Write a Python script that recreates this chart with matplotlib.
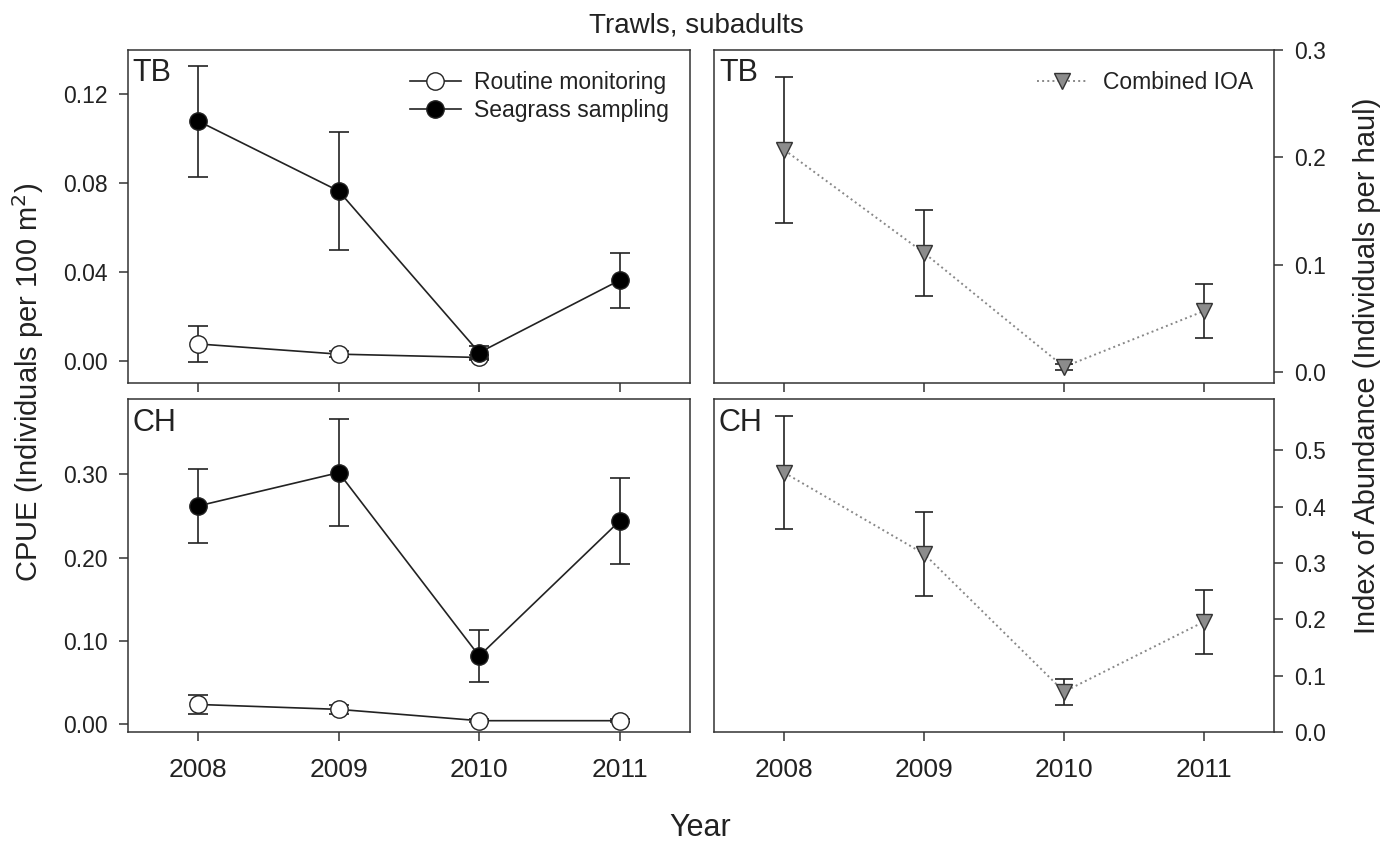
import numpy as np
import matplotlib
matplotlib.use('Agg')
import matplotlib.pyplot as plt
from matplotlib.ticker import FormatStrFormatter

plt.rcParams['font.family'] = ['Liberation Sans', 'DejaVu Sans']

years = [2008, 2009, 2010, 2011]

# Tampa Bay (TB), CPUE per 100 m^2
tb_routine = [0.0076, 0.0030, 0.0015, np.nan]
tb_routine_se = [0.0080, 0.0015, 0.0010, np.nan]
tb_seagrass = [0.108, 0.0765, 0.0037, 0.0363]
tb_seagrass_se = [0.025, 0.0265, 0.003, 0.0123]
# TB combined index of abundance (per haul)
tb_ioa = [0.207, 0.111, 0.005, 0.057]
tb_ioa_se = [0.068, 0.040, 0.003, 0.025]

# Charlotte Harbor (CH)
ch_routine = [0.0235, 0.0176, 0.004, 0.004]
ch_routine_se = [0.011, 0.005, 0.002, 0.002]
ch_seagrass = [0.262, 0.302, 0.0817, 0.244]
ch_seagrass_se = [0.044, 0.064, 0.031, 0.052]
ch_ioa = [0.460, 0.316, 0.072, 0.196]
ch_ioa_se = [0.100, 0.075, 0.023, 0.057]

ink = '#222222'

fig = plt.figure(figsize=(13.93, 8.44), dpi=100)
ax_tl = fig.add_axes([0.0919, 0.5462, 0.4034, 0.3945])
ax_tr = fig.add_axes([0.5129, 0.5462, 0.4016, 0.3945])
ax_bl = fig.add_axes([0.0919, 0.1323, 0.4034, 0.3945])
ax_br = fig.add_axes([0.5129, 0.1323, 0.4016, 0.3945])


def cpue_panel(ax, routine, routine_se, seagrass, seagrass_se):
    ax.errorbar(years, routine, yerr=routine_se, fmt='none', ecolor=ink,
                elinewidth=1.2, capsize=7, capthick=1.2, zorder=2)
    ax.plot(years, routine, '-o', color=ink, lw=1.2, ms=12.5, mfc='white',
            mec=ink, mew=1.0, label='Routine monitoring', zorder=3)
    ax.errorbar(years, seagrass, yerr=seagrass_se, fmt='none', ecolor=ink,
                elinewidth=1.2, capsize=7, capthick=1.2, zorder=4)
    ax.plot(years, seagrass, '-o', color=ink, lw=1.2, ms=12.5, mfc='black',
            mec=ink, mew=1.0, label='Seagrass sampling', zorder=5)


def ioa_panel(ax, ioa, ioa_se):
    ax.plot(years, ioa, ':', color='#888888', lw=1.4, zorder=2)
    ax.errorbar(years, ioa, yerr=ioa_se, fmt='none', ecolor=ink,
                elinewidth=1.2, capsize=6.5, capthick=1.2, zorder=3)
    ax.plot(years, ioa, linestyle='none', marker='v', ms=11, mfc='#8c8c8c',
            mec='#333333', mew=1.0, zorder=4)
    # legend handle: dotted line with triangle
    ax.plot([], [], ':', color='#888888', lw=1.4, marker='v', ms=11,
            mfc='#8c8c8c', mec='#333333', label='Combined IOA')


cpue_panel(ax_tl, tb_routine, tb_routine_se, tb_seagrass, tb_seagrass_se)
cpue_panel(ax_bl, ch_routine, ch_routine_se, ch_seagrass, ch_seagrass_se)
ioa_panel(ax_tr, tb_ioa, tb_ioa_se)
ioa_panel(ax_br, ch_ioa, ch_ioa_se)

ax_tl.set_ylim(-0.01, 0.14)
ax_tl.set_yticks([0.0, 0.04, 0.08, 0.12])
ax_tl.yaxis.set_major_formatter(FormatStrFormatter('%.2f'))
ax_bl.set_ylim(-0.01, 0.39)
ax_bl.set_yticks([0.0, 0.1, 0.2, 0.3])
ax_bl.yaxis.set_major_formatter(FormatStrFormatter('%.2f'))
ax_tr.set_ylim(-0.01, 0.30)
ax_tr.set_yticks([0.0, 0.1, 0.2, 0.3])
ax_br.set_ylim(0.0, 0.59)
ax_br.set_yticks([0.0, 0.1, 0.2, 0.3, 0.4, 0.5])
for ax in (ax_tr, ax_br):
    ax.yaxis.set_major_formatter(FormatStrFormatter('%.1f'))
    ax.yaxis.tick_right()

for ax in (ax_tl, ax_tr, ax_bl, ax_br):
    ax.set_xlim(2007.5, 2011.5)
    ax.set_xticks(years)
    ax.set_xticklabels([str(y) for y in years])
    for s in ax.spines.values():
        s.set_color('#333333')
        s.set_linewidth(1.1)
    ax.tick_params(axis='both', direction='out', length=6.5, width=1.1,
                   colors='#333333', labelcolor=ink)
    ax.tick_params(axis='y', labelsize=16.5, pad=8)
    ax.tick_params(axis='x', labelsize=19, pad=12)

for ax in (ax_tl, ax_tr):
    ax.tick_params(axis='x', labelbottom=False)

for ax, name in ((ax_tl, 'TB'), (ax_tr, 'TB'), (ax_bl, 'CH'), (ax_br, 'CH')):
    ax.text(0.008, 0.975, name, transform=ax.transAxes, fontsize=22,
            va='top', ha='left', color=ink)

leg = ax_tl.legend(loc='upper right', frameon=False, fontsize=16.5,
                   handlelength=2.2, handletextpad=0.6, labelspacing=0.25,
                   numpoints=1)
for t in leg.get_texts():
    t.set_color(ink)
leg2 = ax_tr.legend(loc='upper right', frameon=False, fontsize=16.5,
                    handlelength=2.2, handletextpad=0.7, numpoints=1)
for t in leg2.get_texts():
    t.set_color(ink)

fig.text(0.5, 0.961, 'Trawls, subadults', ha='center', va='baseline',
         fontsize=20, color=ink)
fig.text(0.503, 0.009, 'Year', ha='center', va='baseline', fontsize=22,
         color=ink)
fig.text(0.02, 0.547, 'CPUE (Individuals per 100 m$^{2}$)', rotation=90,
         ha='center', va='center', fontsize=21, color=ink)
fig.text(0.981, 0.567, 'Index of Abundance (Individuals per haul)',
         rotation=90, ha='center', va='center', fontsize=21, color=ink)

fig.savefig('out.png', dpi=100)
